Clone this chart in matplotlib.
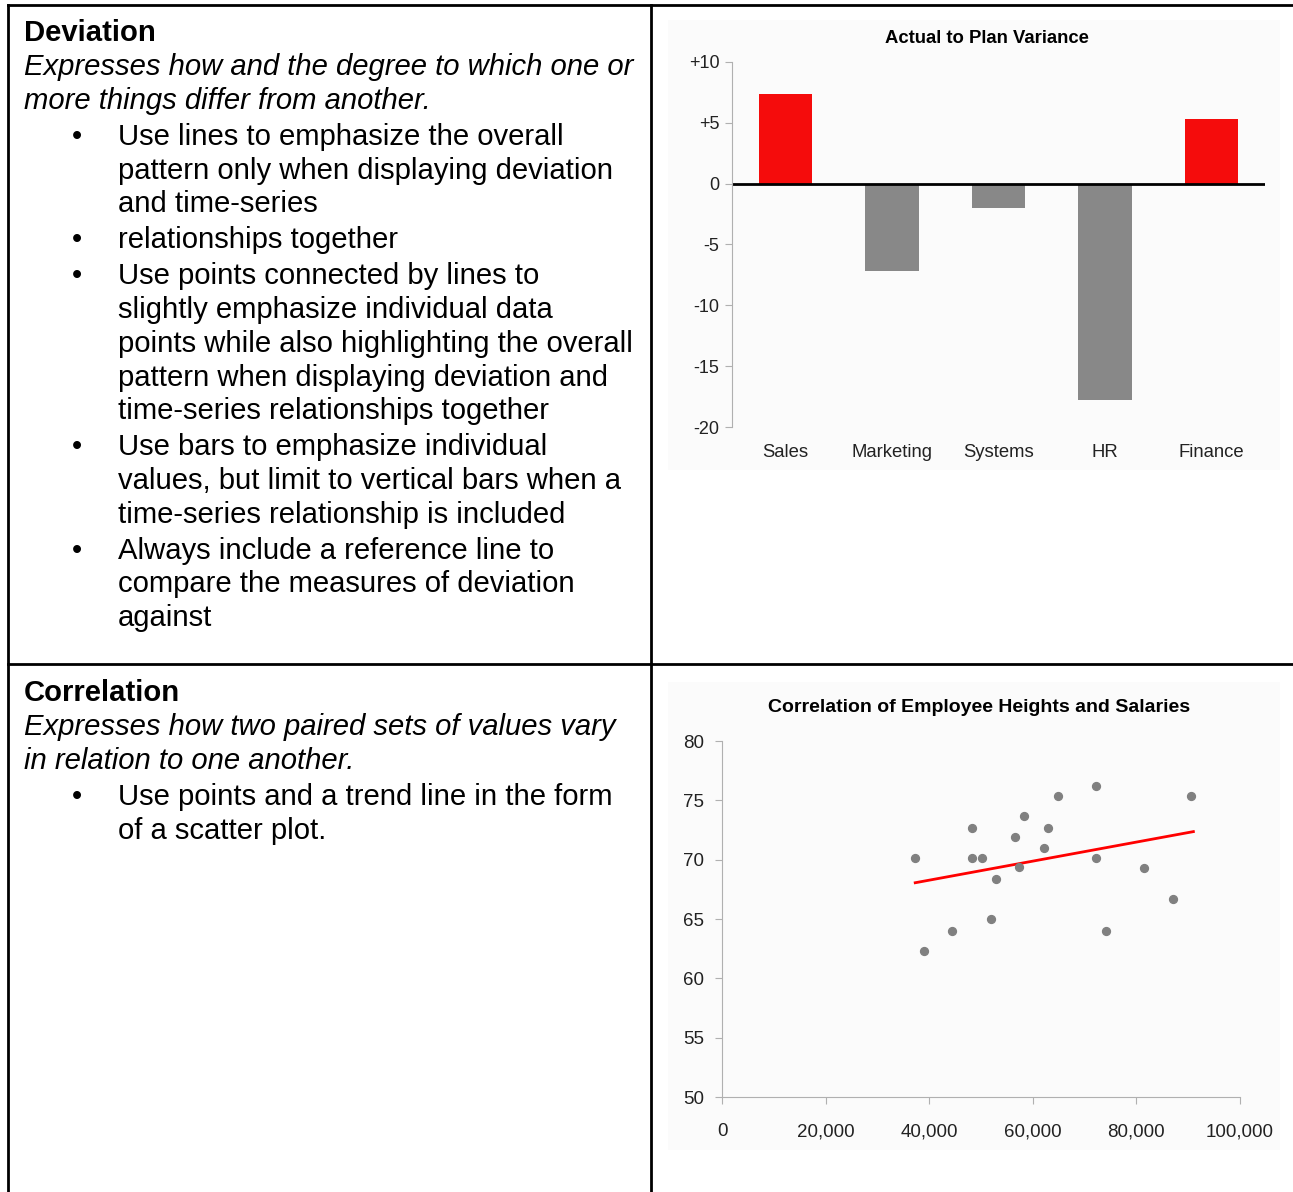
import numpy as np
import matplotlib.pyplot as plt
from matplotlib.patches import Rectangle

plt.rcParams['font.family'] = ['Liberation Sans', 'DejaVu Sans']

# bar chart data
departments = ["Sales", "Marketing", "Systems", "HR", "Finance"]
variance = [7.4, -7.2, -2.0, -17.8, 5.3]
bar_ticks = [10, 5, 0, -5, -10, -15, -20]
bar_tick_labels = ["+10", "+5", "0", "-5", "-10", "-15", "-20"]

# scatter data (salary, height)
salaries = [37300, 39000, 44400, 48300, 48300, 50200, 51900, 52900, 56600, 57300,
            58300, 62200, 62900, 64900, 72200, 72200, 74100, 81500, 87100, 90500]
heights = [70.1, 62.3, 64.0, 72.7, 70.1, 70.1, 65.0, 68.4, 71.9, 69.4,
           73.7, 71.0, 72.7, 75.4, 76.2, 70.1, 64.0, 69.3, 66.7, 75.4]

# text of the left column: (kind, text)
deviation_text = [
    ("title", "Deviation"),
    ("intro", "Expresses how and the degree to which one or"),
    ("intro", "more things differ from another."),
    ("bullet", "Use lines to emphasize the overall"),
    ("cont", "pattern only when displaying deviation"),
    ("cont", "and time-series"),
    ("bullet", "relationships together"),
    ("bullet", "Use points connected by lines to"),
    ("cont", "slightly emphasize individual data"),
    ("cont", "points while also highlighting the overall"),
    ("cont", "pattern when displaying deviation and"),
    ("cont", "time-series relationships together"),
    ("bullet", "Use bars to emphasize individual"),
    ("cont", "values, but limit to vertical bars when a"),
    ("cont", "time-series relationship is included"),
    ("bullet", "Always include a reference line to"),
    ("cont", "compare the measures of deviation"),
    ("cont", "against"),
]
correlation_text = [
    ("title", "Correlation"),
    ("intro", "Expresses how two paired sets of values vary"),
    ("intro", "in relation to one another."),
    ("bullet", "Use points and a trend line in the form"),
    ("cont", "of a scatter plot."),
]

W, H = 1293, 1192
fig = plt.figure(figsize=(W / 100, H / 100), dpi=100)

bg = fig.add_axes([0, 0, 1, 1])
bg.set_xlim(0, W)
bg.set_ylim(H, 0)
bg.axis('off')

# chart backgrounds
bg.add_patch(Rectangle((668, 20), 612, 450, color='#fbfbfb', lw=0))
bg.add_patch(Rectangle((668, 682), 612, 468, color='#fbfbfb', lw=0))

# table borders
lw = 2
bg.plot([8, W], [5, 5], color='black', lw=lw)
bg.plot([8, W], [664, 664], color='black', lw=lw)
bg.plot([8, 8], [5, H], color='black', lw=lw)
bg.plot([651, 651], [5, H], color='black', lw=lw)

fs = 21.1


def draw_block(lines, y0):
    y = y0
    for i, (kind, txt) in enumerate(lines):
        if i > 0:
            y += 34 if kind == "intro" else 33.7
            if kind == "bullet":
                y += 2.3
        if kind == "title":
            bg.text(24, y, txt, fontsize=fs, fontweight='bold', va='center')
        elif kind == "intro":
            bg.text(24, y, txt, fontsize=fs, style='italic', va='center')
        else:
            if kind == "bullet":
                bg.text(72, y, "\u2022", fontsize=fs, va='center')
            bg.text(118, y, txt, fontsize=fs, va='center')


draw_block(deviation_text, 33)
draw_block(correlation_text, 693)


def px_axes(left, top, right, bottom):
    return fig.add_axes([left / W, 1 - bottom / H, (right - left) / W, (bottom - top) / H])


# bar chart
ax1 = px_axes(732, 62, 1265, 427)
ax1.set_facecolor('none')
x = np.arange(len(departments))
colors = ['#f50c0c' if v > 0 else '#888888' for v in variance]
ax1.bar(x, variance, width=0.5, color=colors)
ax1.axhline(0, color='black', lw=2)
ax1.set_xlim(-0.5, len(departments) - 0.5)
ax1.set_ylim(-20, 10)
ax1.set_yticks(bar_ticks)
ax1.set_yticklabels(bar_tick_labels)
ax1.set_xticks(x)
ax1.set_xticklabels(departments)
for s in ['top', 'right', 'bottom']:
    ax1.spines[s].set_visible(False)
ax1.spines['left'].set_color('#b0b0b0')
ax1.tick_params(axis='y', colors='#b0b0b0', labelcolor='#222222', labelsize=13, length=5, pad=4)
ax1.tick_params(axis='x', length=0, labelcolor='#222222', labelsize=13.3, pad=12)
ax1.set_title("Actual to Plan Variance", fontsize=13.3, fontweight='bold', pad=14, x=0.478)

# scatter chart
ax2 = px_axes(722, 741, 1240, 1097)
ax2.set_facecolor('none')
ax2.scatter(salaries, heights, s=32, color='#808080', zorder=3)
k, b = np.polyfit(salaries, heights, 1)
xs = np.array([min(salaries), max(salaries) + 500])
ax2.plot(xs, k * xs + b, color='#ff0000', lw=2)
ax2.set_xlim(0, 100000)
ax2.set_ylim(50, 80)
ax2.set_xticks(range(0, 100001, 20000))
ax2.set_xticklabels([f"{v:,}" for v in range(0, 100001, 20000)])
ax2.set_yticks(range(50, 81, 5))
for s in ['top', 'right']:
    ax2.spines[s].set_visible(False)
for s in ['left', 'bottom']:
    ax2.spines[s].set_color('#b0b0b0')
ax2.tick_params(colors='#b0b0b0', labelcolor='#222222', labelsize=13.5, length=5)
ax2.tick_params(axis='x', pad=14)
ax2.tick_params(axis='y', pad=8)
ax2.set_title("Correlation of Employee Heights and Salaries", fontsize=14,
              fontweight='bold', pad=21, x=0.497)

fig.savefig("out.png", dpi=100)
